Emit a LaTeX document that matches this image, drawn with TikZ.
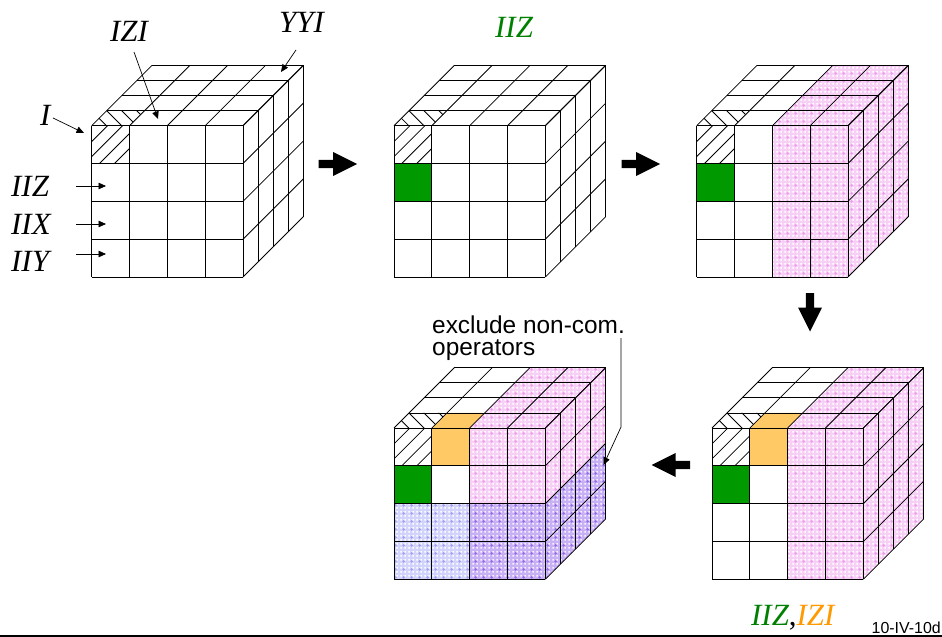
\documentclass[tikz,border=0pt]{standalone}
\usepackage{fontspec}
\setmainfont{Liberation Serif}
\newfontfamily\sansf{Liberation Sans}
\usetikzlibrary{patterns,arrows.meta}
\definecolor{cgreen}{HTML}{009900}
\definecolor{tgreen}{HTML}{008000}
\definecolor{torange}{HTML}{FF9900}
\definecolor{corange}{HTML}{FFC966}
\definecolor{pinkbase}{HTML}{F7D0F5}
\definecolor{pinkdeep}{HTML}{EE9CEC}
\definecolor{bluebase}{HTML}{D2D4FB}
\definecolor{bluedeep}{HTML}{A4A4F2}
\definecolor{purpbase}{HTML}{C8B0F5}
\definecolor{purpdeep}{HTML}{9A6CEA}
\pgfdeclarepatternformonly{gapdots}{\pgfqpoint{0bp}{0bp}}{\pgfqpoint{4bp}{4bp}}{\pgfqpoint{4bp}{4bp}}{%
  \pgfpathrectangle{\pgfqpoint{0.6bp}{0.6bp}}{\pgfqpoint{1.6bp}{1.6bp}}\pgfusepath{fill}}
\pgfdeclarepatternformonly{plusdots}{\pgfqpoint{0bp}{0bp}}{\pgfqpoint{8bp}{8bp}}{\pgfqpoint{8bp}{8bp}}{%
  \pgfpathrectangle{\pgfqpoint{2.6bp}{3.4bp}}{\pgfqpoint{2.8bp}{1.2bp}}\pgfusepath{fill}
  \pgfpathrectangle{\pgfqpoint{3.4bp}{2.6bp}}{\pgfqpoint{1.2bp}{2.8bp}}\pgfusepath{fill}}
\def\s{37.83}
\def\dd{15.07}
\tikzset{
  x=1bp,y=-1bp,
  gridline/.style={draw=black,line width=0.8bp,line join=miter},
  thinarrow/.style={draw=black,line width=0.7bp,-{Triangle[length=7.5bp,width=6.5bp]}},
  blockarrow/.style={fill=black,draw=none},
  lab/.style={inner sep=0pt,anchor=base west,font=\fontsize{31}{31}\selectfont\itshape},
  pinkface/.style={preaction={fill=pinkbase},pattern=gapdots,pattern color=white,postaction={pattern=plusdots,pattern color=pinkdeep}},
  blueface/.style={preaction={fill=bluebase},pattern=gapdots,pattern color=white,postaction={pattern=plusdots,pattern color=bluedeep}},
  purpface/.style={preaction={fill=purpbase},pattern=gapdots,pattern color=white!85!purpbase,postaction={pattern=plusdots,pattern color=purpdeep}},
  greenface/.style={fill=cgreen},
  orangeface/.style={fill=corange},
}
% filled parts of the three visible faces, in local cube coordinates
\newcommand{\ffill}[5]{\path[#5] ({#1*\s},{#3*\s}) rectangle ({#2*\s},{#4*\s});}
\newcommand{\tfill}[5]{\path[#5] ({#1*\s+#3*\dd},{-#3*\dd}) -- ({#2*\s+#3*\dd},{-#3*\dd}) -- ({#2*\s+#4*\dd},{-#4*\dd}) -- ({#1*\s+#4*\dd},{-#4*\dd}) -- cycle;}
\newcommand{\rfill}[5]{\path[#5] ({4*\s+#1*\dd},{#3*\s-#1*\dd}) -- ({4*\s+#2*\dd},{#3*\s-#2*\dd}) -- ({4*\s+#2*\dd},{#4*\s-#2*\dd}) -- ({4*\s+#1*\dd},{#4*\s-#1*\dd}) -- cycle;}
% hatch and grid of one cube
\newcommand{\cubelines}{%
  \begin{scope}
    \clip (0,0) rectangle (\s,\s);
    \foreach \k in {15.9,30.9,45.6,60.6}
      \draw[gridline] ({\k+10},-10) -- ({\k-70},70);
  \end{scope}
  \begin{scope}
    \clip (0,0) -- (\s,0) -- ({\s+\dd},-\dd) -- (\dd,-\dd) -- cycle;
    \foreach \k in {-19.2,-4,11,26}
      \draw[gridline] ({\k-40+34},{-40}) -- ({\k+40+34},40);
  \end{scope}
  \foreach \i in {0,...,4} {
    \draw[gridline] ({\i*\s},0) -- ({\i*\s},{4*\s});
    \draw[gridline] (0,{\i*\s}) -- ({4*\s},{\i*\s});
    \draw[gridline] ({\i*\s},0) -- ({\i*\s+4*\dd},{-4*\dd});
    \draw[gridline] ({4*\s},{\i*\s}) -- ({4*\s+4*\dd},{\i*\s-4*\dd});
  }
  \foreach \d in {1,...,4} {
    \draw[gridline] ({\d*\dd},{-\d*\dd}) -- ({4*\s+\d*\dd},{-\d*\dd});
    \draw[gridline] ({4*\s+\d*\dd},{-\d*\dd}) -- ({4*\s+\d*\dd},{4*\s-\d*\dd});
  }
}
\newcommand{\blockright}[2]{\fill[blockarrow] (#1,#2) ++(-19,-4.2) -- ++(14.5,0) -- ++(0,-7.8) -- ++(24,12) -- ++(-24,12) -- ++(0,-7.8) -- ++(-14.5,0) -- cycle;}
\begin{document}
\begin{tikzpicture}
\useasboundingbox (0,0) rectangle (942,637);
\fill[white] (0,0) rectangle (942,637);

% cube 1
\begin{scope}[shift={(91.7,125.7)}]
  \cubelines
\end{scope}
% cube 2
\begin{scope}[shift={(394,125.7)}]
  \ffill{0}{1}{1}{2}{greenface}
  \cubelines
\end{scope}
% cube 3
\begin{scope}[shift={(696.7,125.7)}]
  \ffill{0}{1}{1}{2}{greenface}
  \ffill{2}{4}{0}{4}{pinkface}
  \tfill{2}{4}{0}{4}{pinkface}
  \rfill{0}{4}{0}{4}{pinkface}
  \cubelines
\end{scope}
% cube 4 (lower right)
\begin{scope}[shift={(712,428)}]
  \ffill{0}{1}{1}{2}{greenface}
  \ffill{1}{2}{0}{1}{orangeface}
  \tfill{1}{2}{0}{1}{orangeface}
  \ffill{2}{4}{0}{4}{pinkface}
  \tfill{2}{4}{0}{4}{pinkface}
  \rfill{0}{4}{0}{4}{pinkface}
  \cubelines
\end{scope}
% cube 5 (lower left)
\begin{scope}[shift={(394,428)}]
  \ffill{0}{1}{1}{2}{greenface}
  \ffill{1}{2}{0}{1}{orangeface}
  \tfill{1}{2}{0}{1}{orangeface}
  \ffill{2}{4}{0}{2}{pinkface}
  \tfill{2}{4}{0}{4}{pinkface}
  \rfill{0}{4}{0}{2}{pinkface}
  \ffill{0}{2}{2}{4}{blueface}
  \ffill{2}{4}{2}{4}{purpface}
  \rfill{0}{4}{2}{4}{purpface}
  \cubelines
\end{scope}

% block arrows
\blockright{337.5}{164}
\blockright{640.5}{164}
\begin{scope}[shift={(810,312)},rotate=-90]
  \blockright{0}{0}
\end{scope}
\begin{scope}[shift={(671,465)},rotate=180]
  \blockright{0}{0}
\end{scope}

% labels
\node[lab] (lI) at (40,126) {I};
\node[lab] (lIZI) at (110,41.5) {IZI};
\node[lab] (lYYI) at (279,33) {YYI};
\node[lab] (lIIZ) at (11,197) {IIZ};
\node[lab] (lIIX) at (11,235) {IIX};
\node[lab] (lIIY) at (11,272) {IIY};
\node[lab,text=tgreen] (lgreen) at (495,38) {IIZ};
\node[lab] (lbottom) at (751,625) {\textcolor{tgreen}{IIZ}\textup{,}\textcolor{torange}{IZI}};
\node[inner sep=0pt,anchor=base west,align=left,font=\fontsize{24.5}{22}\sansf] (lexcl) at (432,355) {exclude non-com.\\operators};
\node[inner sep=0pt,anchor=base east,font=\fontsize{16}{16}\sansf] (lpage) at (941,633) {10-IV-10d};

% thin arrows
\coordinate (sI) at (53,118);
\coordinate (sIZI) at (134,52);
\coordinate (sYYI) at (296,50);
\coordinate (sIIZ) at (76,186);
\coordinate (sIIX) at (76,224);
\coordinate (sIIY) at (76,254);
\coordinate (sexcl) at (621,338);
\coordinate (eI) at (84,133);
\coordinate (eIZI) at (158,119);
\coordinate (eYYI) at (281,72);
\coordinate (eIIZ) at (106,186);
\coordinate (eIIX) at (106,224);
\coordinate (eIIY) at (106,254);
\coordinate (bend) at (621,427);
\coordinate (eexcl) at (603.5,465);
\draw[thinarrow] (sI) -- (eI);
\draw[thinarrow] (sIZI) -- (eIZI);
\draw[thinarrow] (sYYI) -- (eYYI);
\draw[thinarrow] (sIIZ) -- (eIIZ);
\draw[thinarrow] (sIIX) -- (eIIX);
\draw[thinarrow] (sIIY) -- (eIIY);
\draw[thinarrow] (sexcl) -- (bend) -- (eexcl);

% bottom rule
\fill[black] (0,634.7) rectangle (942,637);
\end{tikzpicture}
\end{document}
